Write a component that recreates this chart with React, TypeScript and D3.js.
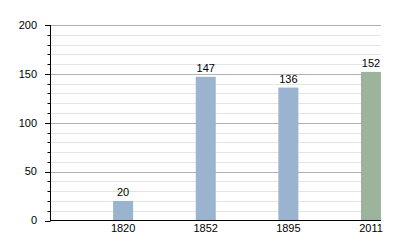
import React from "react";
import * as d3 from "d3";

const years = ["1820", "1852", "1895", "2011"];
const populations = [20, 147, 136, 152];
const barColors = ["#9ab3cf", "#9ab3cf", "#9ab3cf", "#9bb49b"];
const majorTicks = [0, 50, 100, 150, 200];
const minorTicks = d3.range(0, 201, 10);

export default function App() {
  const W = 400, H = 250;
  const left = 50.5, right = 381, top = 25, bottom = 220.5;
  const x = d3.scaleBand<string>().domain(years).range([left, right]).padding(0);
  const y = d3.scaleLinear().domain([0, 200]).range([bottom, top]);
  const barW = 20;
  const font = "'Liberation Sans', Arial, sans-serif";
  return (
    <svg width={W} height={H} style={{ position: "absolute", left: 0, top: 0 }} fontFamily={font}>
      <rect width={W} height={H} fill="#fff" />
      {minorTicks.filter((t) => t % 50 !== 0).map((t) => (
        <line key={"mg" + t} x1={left} x2={right} y1={Math.round(y(t)) + 0.5} y2={Math.round(y(t)) + 0.5} stroke="#e4e4e4" strokeWidth={1} />
      ))}
      {majorTicks.filter((t) => t !== 0).map((t) => (
        <line key={"Mg" + t} x1={left} x2={right} y1={Math.round(y(t)) + 0.5} y2={Math.round(y(t)) + 0.5} stroke="#b0b0b0" strokeWidth={1} />
      ))}
      {years.map((yr, i) => {
        const bx = (x(yr) as number) + x.bandwidth() - barW;
        const v = populations[i];
        return (
          <g key={yr}>
            <rect x={bx} y={y(v)} width={barW} height={bottom - y(v)} fill={barColors[i]} />
            <text x={bx + barW / 2} y={y(v) - 5} textAnchor="middle" fontSize={11} fill="#000">{v}</text>
            <text x={bx + barW / 2} y={232} textAnchor="middle" fontSize={11} fill="#000">{yr}</text>
          </g>
        );
      })}
      {minorTicks.map((t) => (
        <line key={"t" + t} x1={t % 50 === 0 ? 45 : 47.5} x2={left} y1={Math.round(y(t)) + 0.5} y2={Math.round(y(t)) + 0.5} stroke="#000" strokeWidth={1} />
      ))}
      {majorTicks.map((t) => (
        <text key={"l" + t} x={37} y={y(t)} dy="0.35em" textAnchor="end" fontSize={11} fill="#000">{t}</text>
      ))}
      <line x1={left} x2={left} y1={top} y2={bottom + 0.5} stroke="#000" strokeWidth={1} />
      <line x1={left} x2={right} y1={bottom} y2={bottom} stroke="#000" strokeWidth={1} />
    </svg>
  );
}
